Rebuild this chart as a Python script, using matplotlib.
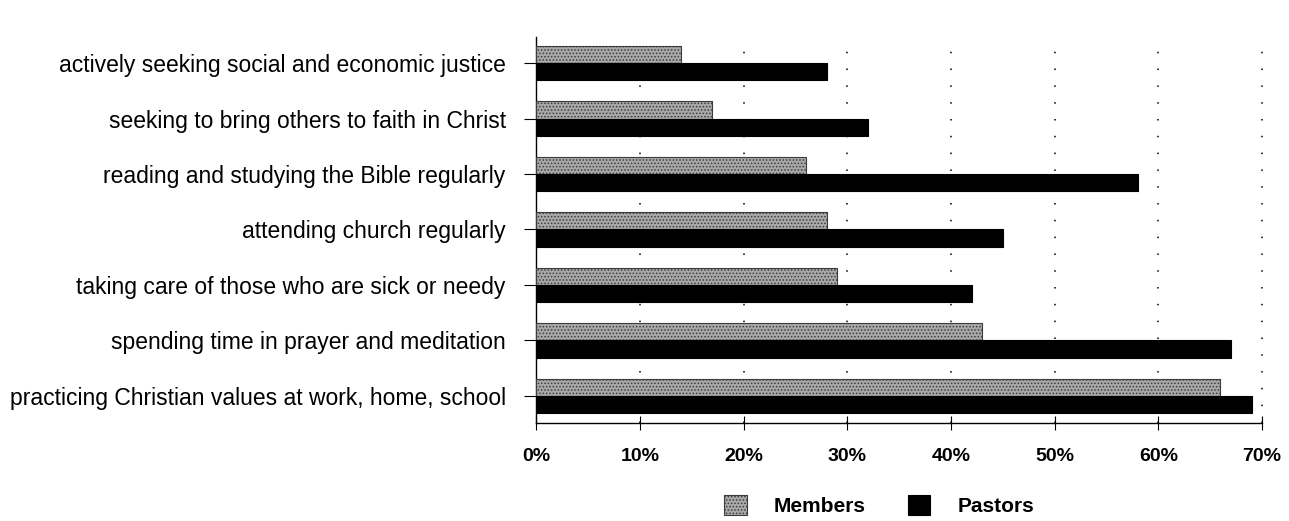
import matplotlib.pyplot as plt
import numpy as np

plt.rcParams['font.family'] = ['Liberation Sans', 'DejaVu Sans']
plt.rcParams['hatch.linewidth'] = 0.7

# data (top to bottom)
categories = [
    "actively seeking social and economic justice",
    "seeking to bring others to faith in Christ",
    "reading and studying the Bible regularly",
    "attending church regularly",
    "taking care of those who are sick or needy",
    "spending time in prayer and meditation",
    "practicing Christian values at work, home, school",
]
members = [14, 17, 26, 28, 29, 43, 66]
pastors = [28, 32, 58, 45, 42, 67, 69]
xticks = [0, 10, 20, 30, 40, 50, 60, 70]

fig = plt.figure(figsize=(12.89, 5.21), dpi=100)
ax = fig.add_axes([0.416, 0.188, 0.563, 0.741])

n = len(categories)
y = np.arange(n)[::-1]  # first category on top
h = 0.31

ax.barh(y + h / 2, members, height=h, color='#a8a8a8', edgecolor='#3c3c3c',
        hatch='.....', linewidth=0.8, label='Members', zorder=3)
ax.barh(y - h / 2, pastors, height=h, color='black', edgecolor='black',
        linewidth=0.8, label='Pastors', zorder=3)

ax.set_xlim(0, 70)
ax.set_ylim(-0.49, n - 1 + 0.47)
ax.set_xticks(xticks)
ax.set_xticklabels([f"{t}%" for t in xticks], fontsize=14, fontweight='bold')
ax.set_yticks(y)
ax.set_yticklabels(categories, fontsize=16.5)
ax.tick_params(axis='y', length=9, pad=13)
ax.tick_params(axis='x', length=10, direction='inout', pad=13)

for t in xticks[1:]:
    ax.axvline(t, color='black', linestyle=(0, (1, 10)), linewidth=1.1,
               zorder=1, clip_on=False)

for s in ['top', 'right']:
    ax.spines[s].set_visible(False)
ax.spines['left'].set_linewidth(1)
ax.spines['bottom'].set_linewidth(1)

fig.legend(loc='center', bbox_to_anchor=(0.682, 0.03), ncol=2, frameon=False,
           prop={'size': 15, 'weight': 'bold'}, handlelength=1.1, handleheight=1.1,
           columnspacing=2.0, handletextpad=1.3)

fig.savefig('out.png', dpi=100)
